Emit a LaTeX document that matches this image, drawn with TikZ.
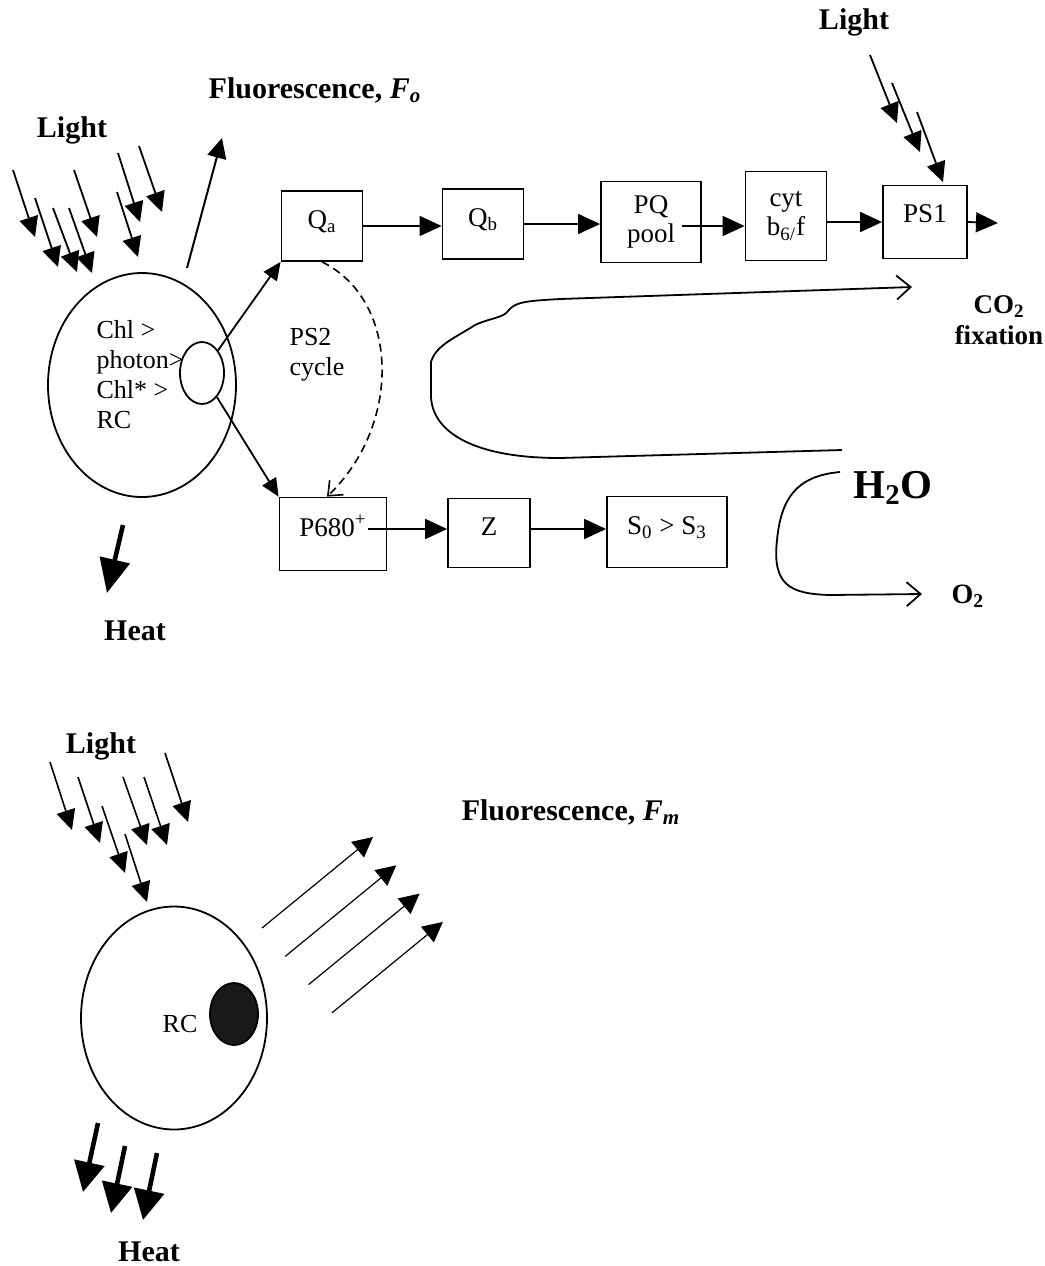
\documentclass[tikz,border=0pt]{standalone}
\usepackage{fontspec}
\setmainfont{Liberation Serif}
\usetikzlibrary{arrows.meta, shapes.geometric}

\begin{document}
\begin{tikzpicture}[x=0.5pt, y=-0.5pt, line width=0.9pt,
			font=\fontsize{13}{15}\selectfont,
			box/.style={draw, minimum width=40.5pt, minimum height=35pt, inner sep=1pt, align=center,
				font=\fontsize{13.5}{14.5}\selectfont},
			einzeilig/.style={text height=9pt, text depth=6.8pt},
			zelle/.style={draw, ellipse, inner sep=0pt},
			fett/.style={font=\fontsize{15}{18}\selectfont\bfseries},
			pfeil/.style={-{Triangle[length=11pt, width=10pt]}},
			licht/.style={-{Triangle[length=10pt, width=9.5pt]}},
			offen/.style={-{Straight Barb[length=6pt, width=10pt]}},
			waerme/.style={line width=2.3pt, -{Triangle[length=17pt, width=15pt]}}]
			\useasboundingbox (0,0) rectangle (1045,1266);
			%Zelle oben
			\node[zelle, minimum width=94pt, minimum height=112pt] (zelle1) at (142,385) {};
			\node[zelle, minimum width=22pt, minimum height=31pt] (rc1) at (202,373) {};
			\node[anchor=west, align=left] (chltext) at (89,375) {Chl >\\photon>\\Chl* >\\RC};
			% Licht, Fluoreszenz, Waerme
			\node[fett] (licht1) at (72,130) {Light};
			\foreach \xa/\ya/\xb/\yb in {13/170/35/237, 35/198/58/267, 53/208/77/272, 69/208/92/273,
				74/170/97/237, 118/153/140/222, 139/146/162/212, 117/192/138/257}
				\draw[licht] (\xa,\ya) -- (\xb,\yb);
			\node[fett] (fluo1) at (315,90) {Fluorescence, \textit{F\textsubscript{o}}};
			\draw[licht, line width=1pt] (187,268) -- (222,138);
			\draw[waerme] (123,525) -- (107,593);
			\node[fett] (heat1) at (135,631) {Heat};
			%Kaesten obere Kette
			\node[box, einzeilig] (Qa) at (322,226) {Q\textsubscript{a}};
			\node[box, einzeilig] (Qb) at (483,224) {Q\textsubscript{b}};
			\node[box, minimum width=50pt, minimum height=40.5pt] (PQ) at (651,222) {PQ\\pool};
			\node[box, minimum height=44.5pt] (cyt) at (786,216) {cyt\\b\textsubscript{6/}f};
			\node[box, einzeilig, minimum width=42pt, minimum height=36.5pt, text depth=8.5pt] (PS1) at (925,222) {PS1};
			\coordinate (pqaus) at (682,226);
			\coordinate (ps1aus) at (998,223);
			\draw[pfeil] (Qa.east) -- (Qa.east -| Qb.west);
			\draw[pfeil] (Qb.east) -- (Qb.east -| PQ.west);
			\draw[pfeil] (pqaus) -- (pqaus -| cyt.west);
			\draw[pfeil] (PS1.west -| cyt.east) -- (PS1.west);
			\draw[pfeil] (PS1.east) -- (ps1aus);
			\node[fett] (licht2) at (854,22) {Light};
			\foreach \xa/\ya/\xb/\yb in {870/55/897/123, 892/83/920/152, 917/112/943/182}
				\draw[licht] (\xa,\ya) -- (\xb,\yb);
			%Kaesten untere Kette
			\node[box, einzeilig, minimum width=53.5pt, minimum height=36.5pt] (P680) at (333,534) {P680\textsuperscript{+}};
			\node[box, einzeilig, minimum width=41pt, minimum height=34.5pt] (Z) at (489,533) {Z};
			\node[box, einzeilig, minimum width=60pt, minimum height=35.5pt] (S) at (667,532) {S\textsubscript{0} > S\textsubscript{3}};
			\coordinate (p680aus) at (368,529);
			\draw[pfeil] (p680aus) -- (p680aus -| Z.west);
			\draw[pfeil] ([yshift=2pt]Z.east) -- ([yshift=2pt]Z.east -| S.west);
			% Verbindungen vom RC
			\draw[pfeil, -{Triangle[length=9pt, width=8pt]}] (rc1) -- (Qa.south west);
			\draw[pfeil, -{Triangle[length=9pt, width=8pt]}] (rc1) -- (P680.north west);
			\draw[offen, dash pattern=on 4pt off 2.5pt, line width=0.8pt] (Qa.south) .. controls (400,300) and (402,425) .. ([xshift=-3pt]P680.north);
			\node[anchor=west, align=left] (ps2) at (282,355) {PS2\\cycle};
			%Kohlenstoff- und Wasserweg
			\coordinate (co2pfeil) at (912,287);
			\coordinate (bogenende) at (842,450);
			\coordinate (o2pfeil) at (922,594);
			\draw[offen, -{Straight Barb[length=7pt, width=12pt]}] (bogenende) -- (560,458)
				.. controls (470,458) and (431,430) .. (431,395) -- (431,362)
				.. controls (436,345) and (455,338) .. (475,325)
				.. controls (490,318) and (503,318) .. (508,311)
				.. controls (515,302) and (525,301) .. (560,299) -- (co2pfeil);
			\draw[offen, -{Straight Barb[length=7pt, width=12pt]}] (840,472) .. controls (795,476) and (781,500) .. (777,540)
				.. controls (772,585) and (790,594) .. (830,595) -- (o2pfeil);
			\node[align=center, font=\fontsize{13.5}{15.5}\selectfont\bfseries] (co2) at (999,320) {CO\textsubscript{2}\\fixation};
			\node[font=\fontsize{20.5}{24}\selectfont\bfseries] (h2o) at (893,488) {H\textsubscript{2}O};
			\node[font=\fontsize{14}{16}\selectfont\bfseries] (o2) at (968,596) {O\textsubscript{2}};
			%Zelle unten
			\node[fett] (licht3) at (101,746) {Light};
			\foreach \xa/\ya/\xb/\yb in {50/762/72/830, 78/777/100/843, 102/806/125/873, 125/834/147/902,
				123/777/147/845, 144/777/167/845, 165/753/188/822}
				\draw[licht, line width=0.8pt] (\xa,\ya) -- (\xb,\yb);
			\node[zelle, minimum width=93pt, minimum height=111.5pt] (zelle2) at (174,1018) {};
			\node[zelle, fill=black!90, minimum width=24pt, minimum height=31pt] (rc2) at (234,1014) {};
			\node (rctext) at (180,1024) {RC};
			\foreach \i in {0,...,3}
				\draw[licht, line width=0.6pt, -{Triangle[length=10pt, width=10pt]}] ({262+23.3*\i},{928+28.3*\i}) -- ++(111,-91);
			\node[fett] (fluo2) at (571,812) {Fluorescence, \textit{F\textsubscript{m}}};
			\foreach \xa/\ya/\xb/\yb in {98/1123/83/1192, 125/1146/111/1213, 157/1153/143/1220}
				\draw[waerme, -{Triangle[length=15pt, width=15pt]}] (\xa,\ya) -- (\xb,\yb);
			\node[fett] (heat2) at (149,1252) {Heat};
		\end{tikzpicture}
\end{document}
